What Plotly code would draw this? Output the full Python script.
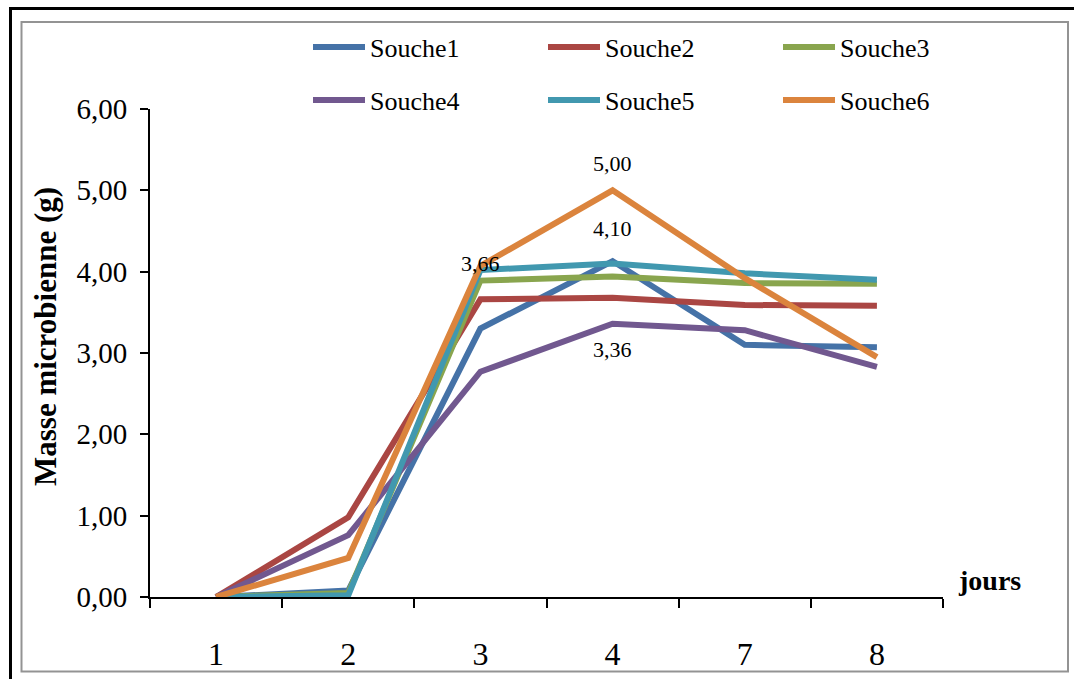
import plotly.graph_objects as go

# ---------------- data ----------------
days = ["1", "2", "3", "4", "7", "8"]
souche1 = [0.00, 0.08, 3.30, 4.13, 3.10, 3.07]
souche2 = [0.00, 0.98, 3.66, 3.68, 3.59, 3.58]
souche3 = [0.00, 0.05, 3.89, 3.94, 3.86, 3.85]
souche4 = [0.00, 0.76, 2.77, 3.36, 3.28, 2.83]
souche5 = [0.00, 0.02, 4.02, 4.10, 3.98, 3.90]
souche6 = [0.00, 0.48, 4.07, 5.00, 3.92, 2.95]
names = ["Souche1", "Souche2", "Souche3", "Souche4", "Souche5", "Souche6"]
colors = ["#4572A7", "#AA4643", "#89A54E", "#71588F", "#4198AF", "#DB843D"]
series = [souche1, souche2, souche3, souche4, souche5, souche6]
y_ticks = [0, 1, 2, 3, 4, 5, 6]

# labelled points: (series index, category index, pixel shift)
labelled = [(5, 3, 27), (4, 3, 35), (1, 2, 36), (3, 3, -26)]

# ---------------- layout geometry ----------------
W, H = 1074, 679
L, R, T, B = 150, 131, 109, 82
PW, PH = W - L - R, H - T - B
FONT = "Liberation Serif"


def px_x(px):
    return (px - L) / PW


def px_y(py):
    return (H - B - py) / PH


fig = go.Figure()
for i, (name, vals, col) in enumerate(zip(names, series, colors)):
    fig.add_trace(go.Scatter(
        x=days, y=vals, name=name, mode="lines",
        line=dict(color=col, width=6),
        legend="legend" if i < 3 else "legend2",
    ))

annotations = []
for si, ci, shift in labelled:
    v = series[si][ci]
    annotations.append(dict(
        x=ci, y=v, xref="x", yref="y",
        xanchor="center", yanchor="middle",
        text=f"{v:.2f}".replace(".", ","), showarrow=False,
        yshift=shift, font=dict(family=FONT, size=22, color="black"),
    ))

annotations.append(dict(
    x=px_x(45), y=px_y(337), xref="paper", yref="paper",
    xanchor="center", yanchor="middle",
    text="<b>Masse microbienne (g)</b>", textangle=-90, showarrow=False,
    font=dict(family=FONT, size=31, color="black"),
))
annotations.append(dict(
    x=px_x(990), y=px_y(580), xref="paper", yref="paper",
    xanchor="center", yanchor="middle",
    text="<b>jours</b>", showarrow=False,
    font=dict(family=FONT, size=28, color="black"),
))

shapes = [
    # grey chart-area frame
    dict(type="rect", xref="paper", yref="paper",
         x0=px_x(21.5), x1=px_x(1068), y0=px_y(22), y1=px_y(671.5),
         line=dict(color="#939393", width=2), layer="below"),
    # black page border (top and left)
    dict(type="line", xref="paper", yref="paper",
         x0=px_x(9), x1=px_x(1080), y0=px_y(8.5), y1=px_y(8.5),
         line=dict(color="black", width=3)),
    dict(type="line", xref="paper", yref="paper",
         x0=px_x(10.5), x1=px_x(10.5), y0=px_y(7), y1=px_y(690),
         line=dict(color="black", width=3)),
]

legend_common = dict(
    orientation="h", xanchor="left", yanchor="middle",
    font=dict(family=FONT, size=26, color="black"),
    bgcolor="rgba(0,0,0,0)", itemwidth=52, entrywidth=168,
    traceorder="normal",
)

fig.update_layout(
    width=W, height=H,
    margin=dict(l=L, r=R, t=T, b=B, autoexpand=False),
    paper_bgcolor="white", plot_bgcolor="white",
    font=dict(family=FONT, color="black"),
    separators=", ",
    showlegend=True,
    legend=dict(x=px_x(308), y=px_y(47), **legend_common),
    legend2=dict(x=px_x(308), y=px_y(100), **legend_common),
    xaxis=dict(
        type="category", range=[-0.5, len(days) - 0.5],
        showline=True, linecolor="black", linewidth=2,
        ticks="outside", tickson="boundaries", ticklen=9, tickwidth=2,
        tickcolor="black", showgrid=False, zeroline=False,
        tickfont=dict(family=FONT, size=32, color="black"),
        ticklabelstandoff=28,
    ),
    yaxis=dict(
        range=[0, 6], tickvals=y_ticks, tickformat=".2f",
        showline=True, linecolor="black", linewidth=2,
        ticks="outside", ticklen=8, tickwidth=2, tickcolor="black",
        showgrid=False, zeroline=False,
        tickfont=dict(family=FONT, size=29, color="black"),
        ticklabelstandoff=7,
    ),
    annotations=annotations,
    shapes=shapes,
)

fig.write_html("out.html")
